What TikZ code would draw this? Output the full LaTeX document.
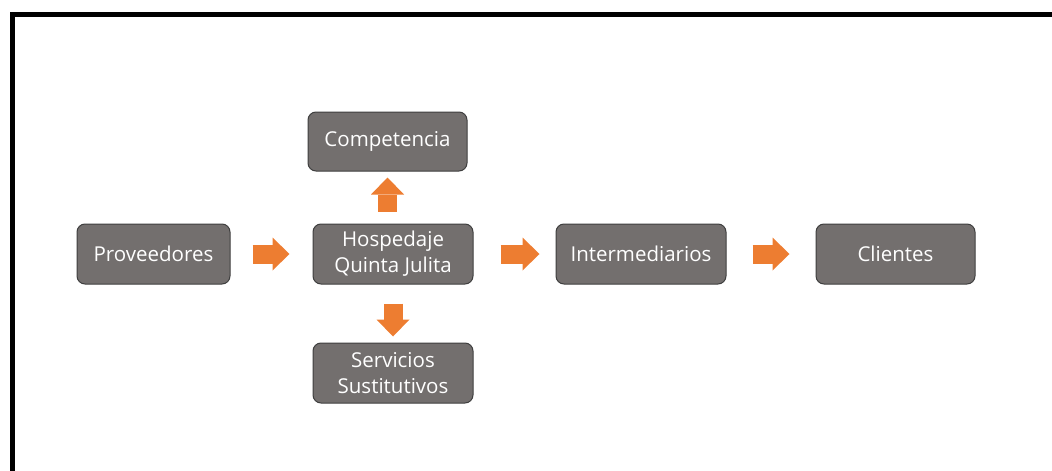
\documentclass[tikz,border=0pt]{standalone}
\usepackage{fontspec}
\setmainfont{Open Sans}
\usetikzlibrary{arrows.meta}
\definecolor{boxgrey}{HTML}{736F6E}
\definecolor{boxline}{HTML}{3F3F3F}
\definecolor{arroworange}{HTML}{ED7D31}
\tikzset{
  actor/.style={rectangle, rounded corners=8pt, draw=boxline, line width=1pt,
    fill=boxgrey, text=white, align=center, inner sep=0pt,
    font=\fontsize{20.5}{26}\selectfont},
  blockarrow/.style={color=arroworange, line width=19pt,
    -{Triangle[width=33pt,length=17pt,line width=0pt]}}
}
\begin{document}
\begin{tikzpicture}[x=1pt,y=-1pt]
\useasboundingbox (0,0) rectangle (1052,471);
\draw[line width=5pt] (12.5,480) -- (12.5,14.5) -- (1060,14.5);
\node[actor, minimum width=153pt, minimum height=60pt] (prov) at (153.5,254) {Proveedores};
\node[actor, minimum width=160pt, minimum height=60pt] (hosp) at (393,254) {Hospedaje\\Quinta Julita};
\node[actor, minimum width=159pt, minimum height=59pt] (comp) at (387.5,141.5) {Competencia};
\node[actor, minimum width=160pt, minimum height=60pt] (serv) at (393,373) {Servicios\\Sustitutivos};
\node[actor, minimum width=170pt, minimum height=60pt] (inter) at (641,254) {Intermediarios};
\node[actor, minimum width=159pt, minimum height=60pt] (cli) at (895.5,254) {Clientes};
\draw[blockarrow, shorten <=22pt, shorten >=23pt] (prov) -- (hosp);
\draw[blockarrow, shorten <=27pt, shorten >=16pt] (hosp) -- (inter);
\draw[blockarrow, shorten <=26pt, shorten >=26pt] (inter) -- (cli);
\draw[blockarrow, shorten <=12pt, shorten >=6pt] (hosp.north -| comp.south) -- (comp.south);
\draw[blockarrow, shorten <=19pt, shorten >=6pt] (hosp.south) -- (serv.north);
\end{tikzpicture}
\end{document}
